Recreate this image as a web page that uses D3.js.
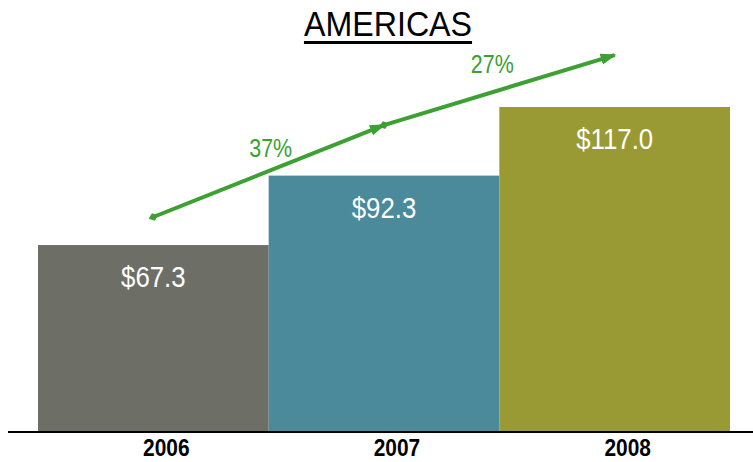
<!DOCTYPE html>
<html>
<head>
<meta charset="utf-8">
<script src="https://cdn.jsdelivr.net/npm/d3@7"></script>
<style>
  html, body { margin: 0; padding: 0; background: #fff; }
  svg { display: block; }
  text { font-family: "Liberation Sans Narrow", "Liberation Sans", Arial, sans-serif; }
</style>
</head>
<body>
<svg id="chart" width="753" height="462"></svg>
<script>
const categories = ["2006", "2007", "2008"];
const revenue = [67.3, 92.3, 117.0];
const valueLabels = ["$67.3", "$92.3", "$117.0"];
const barColors = ["#6d6f67", "#4a8a9a", "#999a33"];
const trendLevels = [77.4, 110.5, 135.7];
const growthLabels = ["37%", "27%"];
const title = "AMERICAS";

const W = 753, H = 462;
const svg = d3.select("#chart");
const green = "#3ca033";

const x = d3.scaleBand().domain(categories).range([38, 730]).padding(0);
const y = d3.scaleLinear().domain([0, 117]).range([432, 107]);

// condensed look: horizontal squeeze of each text
function place(sel, fx, fy, sx) {
  sel.attr("x", 0).attr("y", 0)
     .attr("transform", (d, i) => `translate(${fx(d, i)},${fy(d, i)}) scale(${sx},1)`);
}

// markers
const defs = svg.append("defs");
defs.append("marker")
  .attr("id", "arrowHead")
  .attr("markerUnits", "userSpaceOnUse")
  .attr("viewBox", "0 -6 16 12")
  .attr("refX", 14).attr("refY", 0)
  .attr("markerWidth", 16).attr("markerHeight", 12)
  .attr("orient", "auto")
  .append("path").attr("d", "M0,-5.5L16,0L0,5.5Z").attr("fill", green);
defs.append("marker")
  .attr("id", "diamond")
  .attr("markerUnits", "userSpaceOnUse")
  .attr("viewBox", "-6 -6 12 12")
  .attr("refX", 0).attr("refY", 0)
  .attr("markerWidth", 12).attr("markerHeight", 12)
  .attr("orient", "auto")
  .append("path").attr("d", "M-5,0L0,-4L5,0L0,4Z").attr("fill", green);

// bars
svg.append("g").selectAll("rect")
  .data(categories)
  .join("rect")
  .attr("x", d => x(d))
  .attr("y", (d, i) => y(revenue[i]))
  .attr("width", x.bandwidth())
  .attr("height", (d, i) => y(0) - y(revenue[i]))
  .attr("fill", (d, i) => barColors[i]);

// value labels
svg.append("g").selectAll("text")
  .data(categories)
  .join("text")
  .attr("text-anchor", "middle")
  .attr("fill", "#ffffff")
  .attr("font-size", 30)
  .text((d, i) => valueLabels[i])
  .call(place, d => x(d) + x.bandwidth() / 2, (d, i) => y(revenue[i]) + 42, 0.86);

// baseline axis
const axis = d3.axisBottom(x).tickSize(0).tickPadding(0);
const axisG = svg.append("g").attr("transform", `translate(0,${y(0)})`).call(axis);
axisG.select(".domain").remove();
axisG.append("line")
  .attr("x1", 8).attr("x2", W)
  .attr("y1", 0).attr("y2", 0)
  .attr("stroke", "#000").attr("stroke-width", 2);
axisG.selectAll(".tick text")
  .attr("dy", null)
  .attr("fill", "#000")
  .attr("font-size", 23.5)
  .attr("font-weight", "bold")
  .style("font-family", '"Liberation Sans Narrow", "Liberation Sans", Arial, sans-serif')
  .call(place, () => 13, () => 24, 0.89);

// trend arrows
const pts = categories.map((d, i) => [x(d) + x.bandwidth() / 2, y(trendLevels[i])]);
const segs = d3.range(pts.length - 1).map(i => [pts[i], pts[i + 1]]);
svg.append("g").selectAll("line")
  .data(segs)
  .join("line")
  .attr("x1", d => d[0][0]).attr("y1", d => d[0][1])
  .attr("x2", d => d[1][0]).attr("y2", d => d[1][1])
  .attr("stroke", green)
  .attr("stroke-width", 4)
  .attr("marker-start", "url(#diamond)")
  .attr("marker-end", "url(#arrowHead)");

svg.append("g").selectAll("text")
  .data(segs)
  .join("text")
  .attr("text-anchor", "middle")
  .attr("fill", green)
  .attr("font-size", 26.5)
  .text((d, i) => growthLabels[i])
  .call(place,
        (d, i) => (d[0][0] + d[1][0]) / 2 + (i === 0 ? 2 : -7),
        (d, i) => (d[0][1] + d[1][1]) / 2 + (i === 0 ? -14 : -17),
        0.81);

// title
const titleScale = 0.92;
const t = svg.append("text")
  .attr("text-anchor", "middle")
  .attr("fill", "#000")
  .attr("font-size", 35)
  .text(title)
  .call(place, () => 388, () => 36, titleScale);
const tw = t.node().getComputedTextLength() * titleScale;
svg.append("line")
  .attr("x1", 388 - tw / 2).attr("x2", 388 + tw / 2)
  .attr("y1", 42.5).attr("y2", 42.5)
  .attr("stroke", "#000").attr("stroke-width", 3);
</script>
</body>
</html>
